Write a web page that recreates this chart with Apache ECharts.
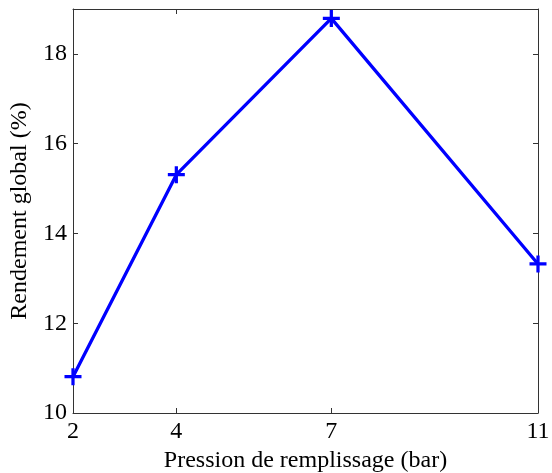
<!DOCTYPE html>
<html>
<head>
<meta charset="utf-8">
<script src="https://cdn.jsdelivr.net/npm/echarts@6/dist/echarts.min.js"></script>
<style>html,body{margin:0;padding:0;background:#fff}#c{width:552px;height:473px}</style>
</head>
<body>
<div id="c"></div>
<script>
const pressures = [2, 4, 7, 11];
const efficiency = [10.81, 15.31, 18.79, 13.32];
const xTicks = [2, 4, 7, 11];
const yTicks = [10, 12, 14, 16, 18];
const xName = 'Pression de remplissage (bar)';
const yName = 'Rendement global (%)';

const chart = echarts.init(document.getElementById('c'), null, {renderer: 'canvas'});
const font = 'Liberation Serif';
const axisLineStyle = {color: '#333', width: 1};
const plus = 'path://M-1,-0.19H-0.19V-1H0.19V-0.19H1V0.19H0.19V1H-0.19V0.19H-1Z';

chart.setOption({
  animation: false,
  backgroundColor: '#fff',
  grid: {left: 73, right: 14, top: 9, bottom: 60, containLabel: false, outerBoundsMode: 'none'},
  xAxis: [{
    type: 'value', min: 2, max: 11,
    name: xName, nameLocation: 'middle', nameGap: 28,
    nameTextStyle: {fontFamily: font, fontSize: 24, color: '#000'},
    axisLine: {show: true, lineStyle: axisLineStyle},
    axisTick: {show: true, inside: true, length: 5, customValues: xTicks, lineStyle: axisLineStyle},
    axisLabel: {customValues: xTicks, fontFamily: font, fontSize: 24, color: '#000', margin: 7},
    splitLine: {show: false}
  }, {
    type: 'value', min: 2, max: 11, position: 'top',
    axisLine: {show: true, onZero: false, lineStyle: axisLineStyle},
    axisTick: {show: true, inside: true, length: 5, customValues: xTicks, lineStyle: axisLineStyle},
    axisLabel: {show: false}, splitLine: {show: false}
  }],
  yAxis: [{
    type: 'value', min: 10, max: 19, interval: 2,
    name: yName, nameLocation: 'middle', nameGap: 37,
    nameTextStyle: {fontFamily: font, fontSize: 24, color: '#000'},
    axisLine: {show: true, onZero: false, lineStyle: axisLineStyle},
    axisTick: {show: true, inside: true, length: 5, customValues: yTicks, lineStyle: axisLineStyle},
    axisLabel: {customValues: yTicks, fontFamily: font, fontSize: 24, color: '#000', margin: 6},
    splitLine: {show: false}
  }, {
    type: 'value', min: 10, max: 19, position: 'right',
    axisLine: {show: true, onZero: false, lineStyle: axisLineStyle},
    axisTick: {show: true, inside: true, length: 5, customValues: yTicks, lineStyle: axisLineStyle},
    axisLabel: {show: false}, splitLine: {show: false}
  }],
  series: [{
    type: 'line',
    data: pressures.map((p, i) => [p, efficiency[i]]),
    symbol: plus,
    symbolSize: 17,
    showAllSymbol: true,
    clip: false,
    lineStyle: {color: '#0000ff', width: 3.3},
    itemStyle: {color: '#0000ff'}
  }]
});
</script>
</body>
</html>
